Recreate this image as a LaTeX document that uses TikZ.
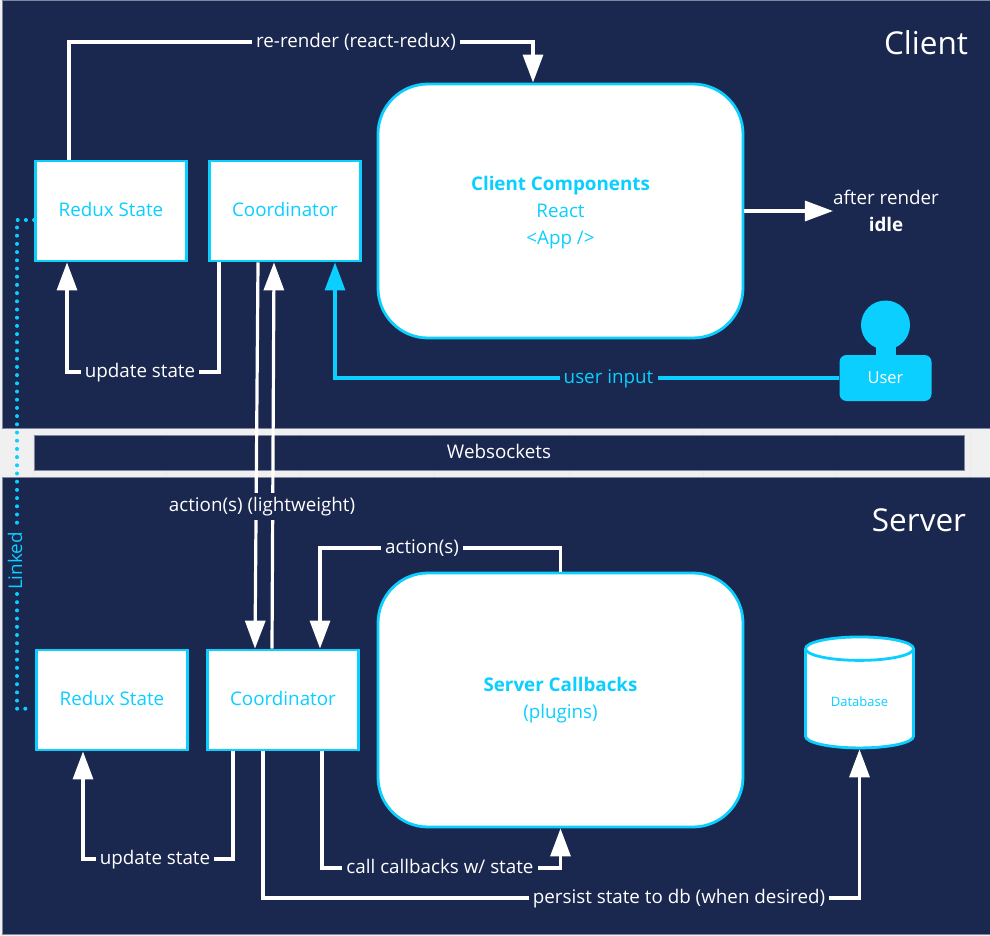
\documentclass[tikz,border=0pt]{standalone}
\usepackage{fontspec}
\setmainfont{Open Sans}
\usetikzlibrary{arrows.meta,shapes.geometric}
\definecolor{navy}{HTML}{1A274F}
\definecolor{aqua}{HTML}{0BCFFF}
\definecolor{band}{HTML}{F0F0F0}
\definecolor{edge}{HTML}{7F86A0}
\newcommand{\boxtext}[1]{\raisebox{2pt}[\height][\depth]{#1}}
\tikzset{
  panel/.style={fill=navy, draw=edge, line width=0.8pt},
  box/.style={draw=aqua, fill=white, text=aqua, line width=2.8pt, minimum width=151pt, minimum height=100pt, font=\fontsize{18.8}{27}\selectfont, align=center},
  bigbox/.style={box, minimum width=365pt, minimum height=254pt, rounded corners=50pt},
  lbl/.style={text=white, font=\fontsize{18.8}{22}\selectfont, inner sep=4pt, text height=14pt, text depth=3pt},
  flow/.style={draw=white, line width=3.2pt},
  flowto/.style={flow, -{Triangle[length=28pt,width=20pt]}},
  dots/.style={aqua, line width=4pt, line cap=round, dash pattern=on 0pt off 8.2pt},
  title/.style={text=white, font=\fontsize{31.5}{36}\selectfont},
}
\begin{document}
\begin{tikzpicture}[x=1pt, y=-1pt]
\useasboundingbox (0,0) rectangle (990,936);
\fill[band] (0,0) rectangle (990,936);

% panels
\draw[panel] (2,0) rectangle (991,428);
\draw[panel] (2,477) rectangle (991,934);
\foreach \x in {33,166.5,300,434,569,703,836,970}
  \draw[black!8, line width=0.6pt] (\x,428.5) -- (\x,476.5);
\draw[panel] (34,435) rectangle (964,470.5);
\node[lbl] (websockets) at (499,453) {Websockets};
\node[title] (clienttitle) at (926,43) {Client};
\node[title] (servertitle) at (919,520) {Server};

% client side
\node[box] (clientredux) at (111,211) {\boxtext{Redux State}};
\node[box] (clientcoord) at (285,211) {\boxtext{Coordinator}};
\node[bigbox] (clientcomp) at (560.5,211) {\rule{0pt}{17pt}\textbf{Client Components}\\React\\<App />};
\node[text=white, font=\fontsize{18.8}{27}\selectfont, align=center, inner sep=0pt] (afterrender) at (886,211) {after render\\\textbf{idle}};
\node[circle, fill=aqua, inner sep=0pt, minimum size=49pt] (userhead) at (885.5,325) {};
\node[fill=aqua, inner sep=0pt, minimum width=20pt, minimum height=14pt] (userneck) at (885.5,349) {};
\node[fill=aqua, text=white, rounded corners=7pt, inner sep=0pt, minimum width=92pt, minimum height=46pt, font=\fontsize{16.5}{18}\selectfont] (user) at (885.5,378) {User};

% server side
\node[box] (serverredux) at (112,700) {\boxtext{Redux State}};
\node[box] (servercoord) at (283,700) {\boxtext{Coordinator}};
\node[bigbox] (servercb) at (560.5,700) {\rule{0pt}{15pt}\textbf{Server Callbacks}\\(plugins)};
\node[cylinder, shape border rotate=90, shape aspect=0.41, draw=aqua, fill=white, text=aqua, line width=2.8pt, minimum width=108pt, minimum height=111pt, inner sep=0pt, font=\fontsize{13}{14}\selectfont] (db) at (859.5,699) {\raisebox{-3pt}[\height][\depth]{Database}};

% labels on the lines
\node[lbl] (rerender) at (356,42) {re-render (react-redux)};
\node[lbl] (clientupdate) at (140,372) {update state};
\node[lbl, text=aqua] (userinput) at (608.5,378) {user input};
\node[lbl] (serveraction) at (422,548) {action(s)};
\node[lbl] (serverupdate) at (155,859) {update state};
\node[lbl] (callcb) at (440,868) {call callbacks w/ state};
\node[lbl] (persist) at (679,898) {persist state to db (when desired)};
\node[text=aqua, rotate=90, inner sep=4pt, text depth=4pt, font=\fontsize{18.8}{22}\selectfont] (linked) at (17,561) {Linked};

% connectors
\draw[flow] ([xshift=-42pt]clientredux.north) |- (rerender.west);
\draw[flowto] (rerender.east) -| ([xshift=-27.5pt]clientcomp.north);
\draw[flow] ([xshift=-66pt]clientcoord.south) |- (clientupdate.east);
\draw[flowto] (clientupdate.west) -| ([xshift=-44pt]clientredux.south);
\draw[flowto] (clientcomp.east) -- (afterrender.west);
\draw[flow, draw=aqua] (user.west) -- (userinput.east);
\draw[flowto, draw=aqua] (userinput.west) -| ([xshift=50pt]clientcoord.south);
\draw[flowto] ([xshift=-27pt]clientcoord.south) -- ([xshift=-28pt]servercoord.north);
\draw[flowto] ([xshift=-11pt]servercoord.north) -- ([xshift=-11pt]clientcoord.south);
\node[lbl, fill=navy, inner sep=0pt, minimum height=27pt] (lightweight) at (262,506) {action(s) (lightweight)};
\draw[flow] (servercb.north) |- (serveraction.east);
\draw[flowto] (serveraction.west) -| ([xshift=37pt]servercoord.north);
\draw[flow] ([xshift=-50pt]servercoord.south) |- (serverupdate.east);
\draw[flowto] (serverupdate.west) -| ([xshift=-29pt]serverredux.south);
\draw[flow] ([xshift=39pt]servercoord.south) |- (callcb.west);
\draw[flowto] (callcb.east) -| (servercb.south);
\draw[flow] ([xshift=-20pt]servercoord.south) |- (persist.west);
\draw[flowto] (persist.east) -| (db.south);
\draw[dots] ([yshift=-9pt]clientredux.west) -| (linked.east);
\draw[dots, shorten >=7pt] (linked.west) |- ([yshift=-8.7pt]serverredux.west);
\end{tikzpicture}
\end{document}
